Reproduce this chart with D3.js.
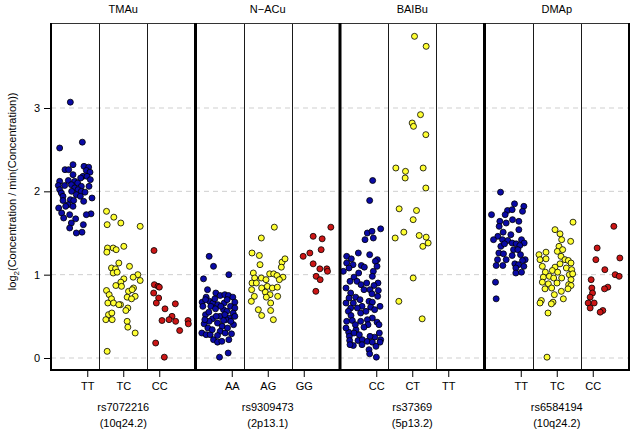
<!DOCTYPE html>
<html>
<head>
<meta charset="utf-8">
<script src="https://cdn.jsdelivr.net/npm/d3@7"></script>
<style>
  body { margin: 0; background: #fff; }
  svg { font-family: "Liberation Sans", Arial, Helvetica, sans-serif; }
  .axis path { display: none; }
  .axis line { stroke: #000; }
  .axis text { font-size: 11px; fill: #000; }
</style>
</head>
<body>
<div id="chart"></div>
<script>

// panels / categories
var metabolites = ["TMAu", "N\u2212ACu", "BAIBu", "DMAp"];
var snps = ["rs7072216", "rs9309473", "rs37369", "rs6584194"];
var loci = ["(10q24.2)", "(2p13.1)", "(5p13.2)", "(10q24.2)"];
var genotypes = [["TT", "TC", "CC"], ["AA", "AG", "GG"], ["CC", "CT", "TT"], ["TT", "TC", "CC"]];
var yTicks = [0, 1, 2, 3];

// points as [jitter within column (0-144), log2 ratio]
var tmauTT = [[58,3.07],[94,2.59],[26,2.52],[66,2.32],[42,2.26],[53,2.26],[99,2.30],[113,2.29],[106,2.25],[117,2.23],[66,2.20],[96,2.18],[108,2.18],[52,2.13],[89,2.16],[118,2.14],[26,2.12],[71,2.12],[80,2.10],[22,2.07],[41,2.07],[61,2.08],[91,2.06],[114,2.06],[26,2.02],[71,2.04],[81,2.02],[31,1.98],[62,2.00],[91,2.00],[102,1.99],[36,1.94],[76,1.96],[88,1.94],[123,1.92],[58,1.90],[68,1.89],[36,1.89],[98,1.88],[51,1.84],[66,1.82],[23,1.80],[44,1.82],[32,1.74],[56,1.72],[120,1.73],[106,1.72],[38,1.68],[74,1.67],[61,1.62],[97,1.60],[56,1.56],[93,1.51],[76,1.50]];
var tmauTC = [[22,1.76],[44,1.69],[24,1.60],[65,1.62],[123,1.58],[74,1.34],[25,1.32],[42,1.32],[51,1.30],[23,1.27],[59,1.14],[37,1.08],[49,1.07],[91,1.10],[42,1.02],[54,1.03],[116,1.00],[102,0.97],[123,0.93],[74,0.95],[65,0.91],[50,0.87],[67,0.86],[103,0.84],[22,0.81],[88,0.80],[99,0.82],[30,0.76],[37,0.71],[84,0.73],[108,0.74],[97,0.71],[26,0.66],[43,0.66],[64,0.64],[59,0.64],[86,0.60],[80,0.57],[28,0.52],[38,0.54],[20,0.46],[39,0.46],[84,0.44],[86,0.37],[108,0.30],[24,0.08]];
var tmauCC = [[20,1.29],[21,0.88],[32,0.86],[36,0.85],[19,0.78],[34,0.72],[27,0.66],[84,0.65],[53,0.59],[74,0.50],[65,0.46],[44,0.45],[85,0.44],[122,0.45],[123,0.41],[97,0.33],[25,0.18],[51,0.01]];

var nacuAA = [[41,1.22],[54,1.10],[24,0.95],[100,1.00],[36,0.82],[32,0.73],[61,0.78],[74,0.75],[88,0.76],[99,0.75],[112,0.73],[118,0.67],[20,0.67],[42,0.68],[52,0.66],[67,0.64],[86,0.66],[22,0.62],[46,0.62],[60,0.59],[105,0.62],[118,0.60],[84,0.58],[94,0.56],[113,0.54],[30,0.52],[74,0.50],[101,0.48],[51,0.47],[92,0.46],[41,0.44],[66,0.42],[26,0.41],[114,0.40],[80,0.38],[37,0.36],[19,0.30],[32,0.28],[44,0.28],[74,0.32],[89,0.30],[108,0.29],[54,0.22],[66,0.19],[79,0.20],[100,0.22],[98,0.06],[72,0.01],[30,0.70],[58,0.71],[95,0.70],[76,0.62],[28,0.46],[62,0.50],[106,0.44],[50,0.34],[96,0.36],[66,0.27],[84,0.45],[118,0.50],[40,0.55],[88,0.52]];
var nacuAG = [[92,1.57],[53,1.44],[25,1.26],[47,1.23],[115,1.15],[124,1.19],[49,1.12],[113,1.09],[29,1.02],[78,1.01],[90,1.01],[100,0.99],[33,0.96],[53,0.96],[67,0.94],[118,0.97],[107,0.94],[25,0.90],[38,0.90],[54,0.84],[71,0.86],[86,0.84],[101,0.85],[24,0.82],[65,0.79],[79,0.76],[32,0.74],[68,0.73],[102,0.74],[23,0.68],[81,0.66],[44,0.58],[81,0.57],[54,0.51],[89,0.46]];
var nacuGG = [[117,1.57],[64,1.46],[91,1.43],[88,1.30],[54,1.26],[34,1.22],[64,1.13],[84,1.07],[105,1.07],[107,1.04],[73,0.98],[85,0.94],[72,0.80]];

var baibCC = [[98,2.13],[89,1.89],[122,1.55],[82,1.50],[96,1.52],[75,1.42],[100,1.44],[55,1.26],[89,1.24],[20,1.22],[34,1.19],[112,1.18],[106,1.16],[20,1.14],[39,1.12],[64,1.11],[73,1.09],[27,1.08],[111,1.10],[100,1.04],[42,0.97],[97,0.98],[51,0.92],[114,0.90],[63,0.88],[80,0.90],[102,0.87],[72,0.82],[90,0.82],[115,0.81],[96,0.77],[32,0.78],[47,0.73],[113,0.74],[27,0.72],[87,0.68],[97,0.67],[18,0.66],[40,0.66],[66,0.62],[32,0.60],[52,0.60],[92,0.61],[25,0.56],[62,0.54],[33,0.51],[97,0.48],[82,0.46],[20,0.44],[37,0.45],[62,0.44],[111,0.43],[117,0.40],[84,0.40],[72,0.37],[48,0.34],[26,0.31],[42,0.30],[28,0.26],[104,0.25],[122,0.22],[120,0.19],[29,0.21],[54,0.21],[67,0.22],[82,0.20],[97,0.19],[40,0.15],[66,0.16],[108,0.14],[87,0.10],[89,0.05],[109,0.01],[18,0.84],[30,0.92],[60,0.70],[78,0.56],[104,0.58],[46,0.40],[18,0.36],[58,0.28],[90,0.26],[118,0.30],[30,0.16],[120,0.62],[10,1.04],[56,1.02]];
var baibCT = [[79,3.86],[114,3.74],[97,2.92],[72,2.82],[76,2.78],[113,2.68],[23,2.28],[105,2.28],[52,2.24],[51,2.16],[113,2.04],[33,1.79],[85,1.77],[75,1.66],[47,1.51],[21,1.44],[93,1.47],[114,1.45],[120,1.38],[104,1.34],[75,0.96],[32,0.68],[102,0.47]];
var baibTT = [];

var dmapTT = [[48,1.99],[90,1.85],[118,1.82],[114,1.76],[69,1.77],[83,1.78],[62,1.72],[21,1.72],[46,1.64],[84,1.66],[103,1.64],[44,1.58],[65,1.62],[103,1.54],[56,1.51],[79,1.48],[40,1.46],[27,1.42],[54,1.42],[70,1.41],[111,1.42],[119,1.38],[83,1.38],[95,1.37],[106,1.35],[49,1.34],[60,1.37],[87,1.30],[100,1.30],[43,1.26],[57,1.25],[83,1.23],[108,1.24],[39,1.18],[65,1.18],[122,1.18],[114,1.17],[91,1.13],[102,1.12],[35,1.11],[55,1.11],[118,1.10],[94,1.08],[94,1.02],[111,1.03],[33,0.91],[35,0.71]];
var dmapTC = [[121,1.63],[67,1.54],[82,1.49],[87,1.42],[114,1.40],[79,1.34],[74,1.28],[90,1.30],[19,1.24],[40,1.27],[85,1.22],[22,1.18],[40,1.19],[97,1.18],[107,1.17],[82,1.13],[115,1.14],[29,1.10],[67,1.09],[101,1.08],[59,1.05],[75,1.03],[38,1.03],[117,1.06],[110,1.00],[120,1.01],[32,0.97],[50,0.98],[63,0.96],[87,0.96],[115,0.94],[29,0.91],[47,0.89],[73,0.90],[108,0.88],[115,0.87],[57,0.84],[37,0.83],[86,0.80],[106,0.83],[65,0.76],[92,0.71],[26,0.69],[22,0.66],[61,0.67],[56,0.65],[46,0.54],[43,0.01]];
var dmapCC = [[99,1.58],[49,1.32],[117,1.20],[45,1.18],[72,1.06],[103,1.00],[115,0.98],[31,0.94],[81,0.85],[71,0.83],[33,0.84],[35,0.78],[28,0.73],[22,0.66],[40,0.66],[28,0.60],[66,0.57],[58,0.55]];

var groups = [
  [tmauTT, tmauTC, tmauCC],
  [nacuAA, nacuAG, nacuGG],
  [baibCC, baibCT, baibTT],
  [dmapTT, dmapTC, dmapCC]
];
var fills = ["#0a0aa6", "#ffff33", "#cc1616"];

var W = 633, H = 429;
var margin = {top: 23, right: 4, bottom: 59, left: 51};
var plotL = margin.left, plotR = W - margin.right, plotT = margin.top, plotB = H - margin.bottom;

var svg = d3.select("#chart").append("svg")
    .attr("width", W)
    .attr("height", H);

// scales
var y = d3.scaleLinear().domain([-0.144, 4.02]).range([plotB, plotT]);
var xPanel = d3.scaleBand().domain(d3.range(4)).range([plotL, plotR]);
var xCol = d3.scaleBand().domain(d3.range(3)).range([0, xPanel.bandwidth()]);
var xJit = d3.scaleLinear().domain([0, 144.5]).range([0, xCol.bandwidth()]);

// dashed grid
svg.append("g").selectAll("line")
  .data(yTicks)
  .enter().append("line")
    .attr("x1", plotL).attr("x2", plotR)
    .attr("y1", function(d) { return y(d); })
    .attr("y2", function(d) { return y(d); })
    .attr("stroke", "#cfcfcf")
    .attr("stroke-dasharray", "5,4");

// points
groups.forEach(function(panel, p) {
  panel.forEach(function(pts, c) {
    var x0 = xPanel(p) + xCol(c);
    svg.append("g").selectAll("circle")
      .data(pts)
      .enter().append("circle")
        .attr("cx", function(d) { return x0 + xJit(d[0]); })
        .attr("cy", function(d) { return y(d[1]); })
        .attr("r", 3)
        .attr("fill", fills[c])
        .attr("stroke", "#000")
        .attr("stroke-width", 0.8);
  });
});

// column separators
for (var p = 0; p < 4; p++) {
  for (var c = 1; c < 3; c++) {
    var xc = Math.round(xPanel(p) + xCol(c)) + 0.5;
    svg.append("line")
      .attr("x1", xc).attr("x2", xc)
      .attr("y1", plotT).attr("y2", plotB)
      .attr("stroke", "#1a1a1a").attr("stroke-width", 1);
  }
}

// frame
svg.append("line").attr("x1", plotL).attr("x2", plotR).attr("y1", plotT + 0.5).attr("y2", plotT + 0.5)
  .attr("stroke", "#333").attr("stroke-width", 1);
svg.append("line").attr("x1", plotL).attr("x2", plotR).attr("y1", plotB).attr("y2", plotB)
  .attr("stroke", "#000").attr("stroke-width", 2);
d3.range(5).forEach(function(i) {
  var xb = i < 4 ? xPanel(i) : plotR;
  svg.append("line")
    .attr("x1", xb).attr("x2", xb)
    .attr("y1", plotT).attr("y2", plotB + 1)
    .attr("stroke", "#000")
    .attr("stroke-width", (i === 0 || i === 4) ? 2 : 3);
});

// y axis
svg.append("g")
  .attr("class", "axis")
  .attr("transform", "translate(" + (plotL - 1) + ",0)")
  .call(d3.axisLeft(y).tickValues(yTicks).tickFormat(d3.format("d")).tickSize(6).tickPadding(4));

var ylab = svg.append("text")
  .attr("transform", "translate(16," + y(2.0) + ") rotate(-90)")
  .attr("text-anchor", "middle")
  .style("font-size", "11px");
ylab.append("tspan").text("log");
ylab.append("tspan").attr("font-size", "8px").attr("dy", 3).text("2");
ylab.append("tspan").attr("dy", -3).text("(Concentration / min(Concentration))");

// bottom axes, titles, snp labels
metabolites.forEach(function(name, p) {
  var cx = xPanel(p) + xPanel.bandwidth() / 2;
  var xg = d3.scalePoint().domain(genotypes[p]).range([cx - 36, cx + 36]);

  svg.append("g")
    .attr("class", "axis")
    .attr("transform", "translate(0," + (plotB + 1) + ")")
    .call(d3.axisBottom(xg).tickSize(6).tickPadding(5));

  svg.append("text")
    .attr("x", cx).attr("y", 13)
    .attr("text-anchor", "middle")
    .style("font-size", "11px")
    .text(name);

  svg.append("text")
    .attr("x", cx).attr("y", 411)
    .attr("text-anchor", "middle")
    .style("font-size", "11px")
    .text(snps[p]);

  svg.append("text")
    .attr("x", cx).attr("y", 427)
    .attr("text-anchor", "middle")
    .style("font-size", "11px")
    .text(loci[p]);
});

</script>
</body>
</html>
